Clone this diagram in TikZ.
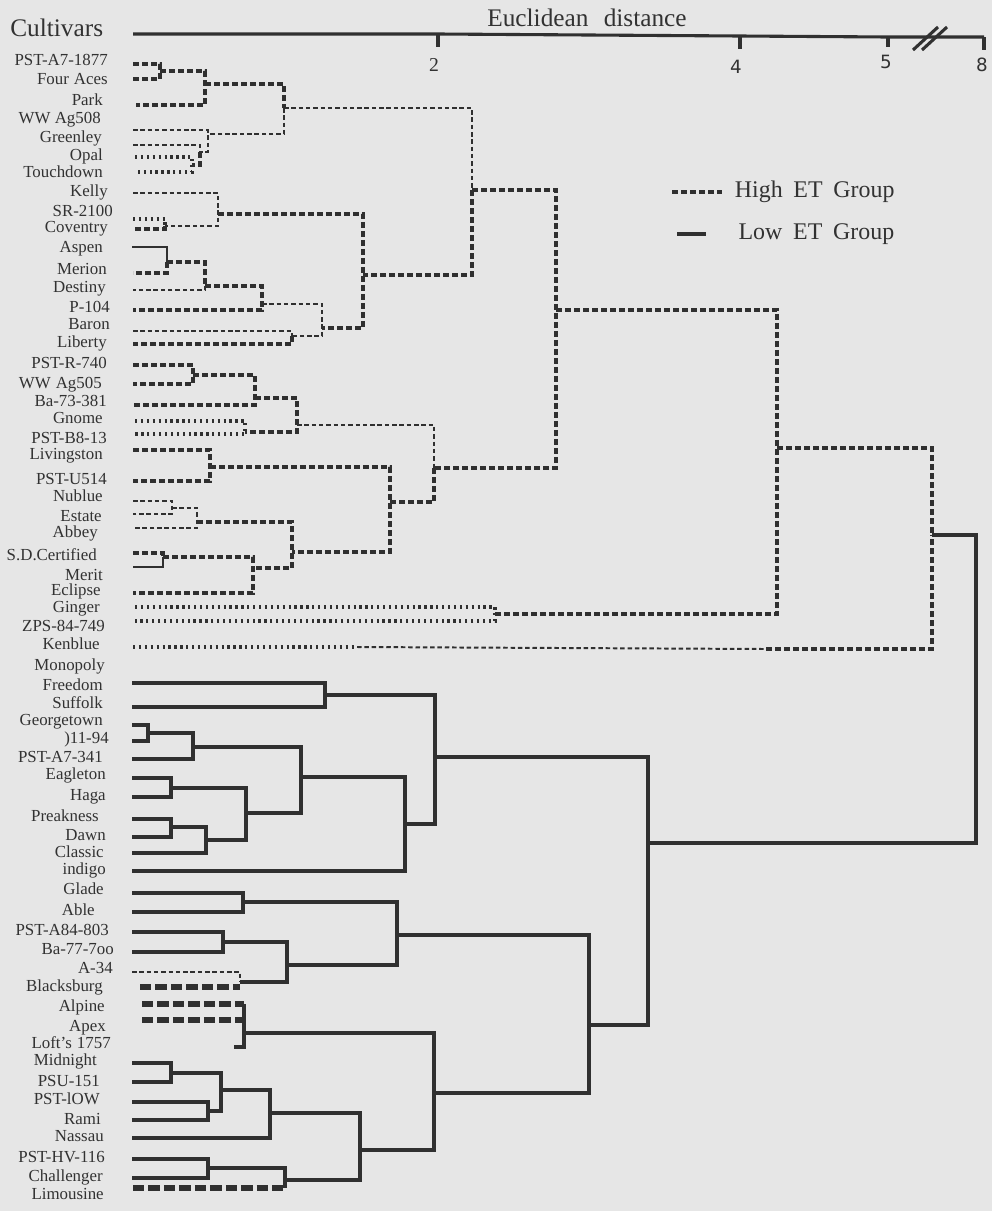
\documentclass[tikz,border=0pt]{standalone}
\usepackage{fontspec}
\usepackage{tikz}
\setmainfont{Liberation Serif}
\newfontfamily\digitfont{DejaVu Sans}
\usetikzlibrary{positioning}

\definecolor{paper}{RGB}{230,230,230}
\definecolor{ink}{RGB}{48,48,48}
\definecolor{txt}{RGB}{50,50,50}

\begin{document}
\begin{tikzpicture}[
    x=0.025cm, y=-0.025cm,
    cultivar/.style={anchor=mid east, inner sep=0pt, text=txt, font=\fontsize{12}{14}\selectfont},
    heading/.style={inner sep=0pt, text=txt, font=\fontsize{18}{20}\selectfont},
    legendtext/.style={anchor=mid west, inner sep=0pt, text=txt, font=\fontsize{17}{19}\selectfont},
    tick/.style={inner sep=0pt, text=txt, font=\fontsize{14}{16}\selectfont},
    axis/.style={draw=ink, line width=2.2pt},
    high/.style={draw=ink, line width=2.5pt, dash pattern=on 4.2pt off 2.2pt},
    highthin/.style={draw=ink, line width=1.4pt, dash pattern=on 3.2pt off 2pt},
    highdot/.style={draw=ink, line width=3pt, dash pattern=on 1.6pt off 2.6pt},
    thinline/.style={draw=ink, line width=1.4pt},
    low/.style={draw=ink, line width=2.3pt},
    smudge/.style={draw=ink, line width=3.6pt, dash pattern=on 8pt off 3pt}
]
\fill[paper] (0,0) rectangle (992,1211);

% headings and scale
\node[heading, anchor=mid west] (cultivars) at (10,33) {Cultivars};
\node[heading] (xlabel) at (587,18) {Euclidean\hspace{0.6em}distance};
\coordinate (ax0) at (133,34);
\coordinate (ax2) at (438,34);
\coordinate (ax4) at (740,36);
\coordinate (ax5) at (888,37);
\coordinate (ax8) at (984,37);
\draw[axis] (ax0) -- (ax2) -- (ax4) -- (ax5) -- (ax8);
\draw[axis] (ax2) -- ++(0,13);
\draw[axis] (ax4) -- ++(0,13);
\draw[axis] (ax5) -- ++(0,10);
\draw[axis] (ax8) -- ++(0,13);
\draw[axis] (913,50) -- (938,27);
\draw[axis] (922,50) -- (947,27);
\node[tick] (two) at (434,65) {2};
\node[tick, font=\digitfont\fontsize{13}{15}\selectfont] (four) at (736,67) {4};
\node[tick, font=\digitfont\fontsize{13}{15}\selectfont] (five) at (886,62) {5};
\node[tick, font=\digitfont\fontsize{13}{15}\selectfont] (eight) at (982,65) {8};

% legend
\coordinate (hiL) at (672,192);
\coordinate (hiR) at (722,192);
\coordinate (loL) at (677,234);
\coordinate (loR) at (706,234);
\draw[high, line width=2.8pt] (hiL) -- (hiR);
\draw[low] (loL) -- (loR);
\node[legendtext, right=9pt of hiR] (hightext) {High\hspace{0.45em}ET\hspace{0.45em}Group};
\node[legendtext, right=23pt of loR] (lowtext) {Low\hspace{0.45em}ET\hspace{0.45em}Group};

% cultivar names
\node[cultivar] (pstA7) at (108,62) {PST-A7-1877};
\node[cultivar] (fouraces) at (108,81) {Four\hspace{0.3em}Aces};
\node[cultivar] (park) at (103,102) {Park};
\node[cultivar] (wwag508) at (101,120) {WW Ag508};
\node[cultivar] (greenley) at (102,139) {Greenley};
\node[cultivar] (opal) at (103,157) {Opal};
\node[cultivar] (touchdown) at (103,174) {Touchdown};
\node[cultivar] (kelly) at (108,193) {Kelly};
\node[cultivar] (sr2100) at (113,213) {SR-2100};
\node[cultivar] (coventry) at (108,229) {Coventry};
\node[cultivar] (aspen) at (103,249) {Aspen};
\node[cultivar] (merion) at (107,271) {Merion};
\node[cultivar] (destiny) at (106,289) {Destiny};
\node[cultivar] (p104) at (110,309) {P-104};
\node[cultivar] (baron) at (110,326) {Baron};
\node[cultivar] (liberty) at (107,344) {Liberty};
\node[cultivar] (pstR740) at (107,365) {PST-R-740};
\node[cultivar] (wwag505) at (102,385) {WW\hspace{0.3em}Ag505};
\node[cultivar] (ba73) at (107,403) {Ba-73-381};
\node[cultivar] (gnome) at (103,420) {Gnome};
\node[cultivar] (pstB8) at (107,440) {PST-B8-13};
\node[cultivar] (livingston) at (103,456) {Livingston};
\node[cultivar] (pstU514) at (107,481) {PST-U514};
\node[cultivar] (nublue) at (103,498) {Nublue};
\node[cultivar] (estate) at (102,518) {Estate};
\node[cultivar] (abbey) at (98,534) {Abbey};
\node[cultivar] (sdcert) at (97,557) {S.D.Certified};
\node[cultivar] (merit) at (103,577) {Merit};
\node[cultivar] (eclipse) at (101,592) {Eclipse};
\node[cultivar] (ginger) at (100,609) {Ginger};
\node[cultivar] (zps) at (105,628) {ZPS-84-749};
\node[cultivar] (kenblue) at (100,646) {Kenblue};
\node[cultivar] (monopoly) at (105,667) {Monopoly};
\node[cultivar] (freedom) at (103,687) {Freedom};
\node[cultivar] (suffolk) at (103,705) {Suffolk};
\node[cultivar] (georgetown) at (103,722) {Georgetown};
\node[cultivar] (j1194) at (109,740) {)11-94};
\node[cultivar] (pstA7341) at (103,759) {PST-A7-341};
\node[cultivar] (eagleton) at (106,776) {Eagleton};
\node[cultivar] (haga) at (106,797) {Haga};
\node[cultivar] (preakness) at (99,818) {Preakness};
\node[cultivar] (dawn) at (106,837) {Dawn};
\node[cultivar] (classic) at (104,854) {Classic};
\node[cultivar] (indigo) at (106,871) {indigo};
\node[cultivar] (glade) at (104,891) {Glade};
\node[cultivar] (able) at (95,912) {Able};
\node[cultivar] (pstA84) at (109,932) {PST-A84-803};
\node[cultivar] (ba77) at (114,951) {Ba-77-7oo};
\node[cultivar] (a34) at (113,970) {A-34};
\node[cultivar] (blacksburg) at (103,988) {Blacksburg};
\node[cultivar] (alpine) at (105,1008) {Alpine};
\node[cultivar] (apex) at (106,1028) {Apex};
\node[cultivar] (lofts) at (111,1045) {Loft's\hspace{0.3em}1757};
\node[cultivar] (midnight) at (97,1062) {Midnight};
\node[cultivar] (psu151) at (100,1083) {PSU-151};
\node[cultivar] (pst10w) at (100,1101) {PST-lOW};
\node[cultivar] (rami) at (101,1121) {Rami};
\node[cultivar] (nassau) at (104,1138) {Nassau};
\node[cultivar] (psthv) at (105,1159) {PST-HV-116};
\node[cultivar] (challenger) at (103,1178) {Challenger};
\node[cultivar] (limousine) at (104,1196) {Limousine};

% leaf ends, high ET group
\coordinate (pstA70) at (133,64);
\coordinate (fouraces0) at (133,79);
\coordinate (park0) at (136,105);
\coordinate (wwag5080) at (133,130);
\coordinate (greenley0) at (133,145);
\coordinate (opal0) at (135,157);
\coordinate (touchdown0) at (135,172);
\coordinate (kelly0) at (133,193);
\coordinate (sr21000) at (133,219);
\coordinate (coventry0) at (133,229);
\coordinate (aspen0) at (132,247);
\coordinate (merion0) at (133,273);
\coordinate (destiny0) at (133,290);
\coordinate (p1040) at (133,310);
\coordinate (baron0) at (133,331);
\coordinate (liberty0) at (133,344);
\coordinate (pstR7400) at (133,365);
\coordinate (wwag5050) at (133,384);
\coordinate (ba730) at (133,405);
\coordinate (gnome0) at (135,421);
\coordinate (pstB80) at (135,434);
\coordinate (livingston0) at (133,450);
\coordinate (pstU5140) at (133,481);
\coordinate (nublue0) at (133,501);
\coordinate (estate0) at (133,514);
\coordinate (abbey0) at (133,528);
\coordinate (sdcert0) at (133,553);
\coordinate (merit0) at (133,567);
\coordinate (eclipse0) at (133,593);
\coordinate (ginger0) at (135,607);
\coordinate (zps0) at (135,621);
\coordinate (kenblue0) at (133,647);
\coordinate (kb1) at (357,647);
\coordinate (kb2) at (766,649);

% junctions, high ET group
\coordinate (j1) at (160,71);
\coordinate (j2) at (205,84);
\coordinate (j3) at (192,165);
\coordinate (j4) at (200,152);
\coordinate (j5) at (208,134);
\coordinate (j6) at (284,108);
\coordinate (j7) at (165,226);
\coordinate (j8) at (218,214);
\coordinate (j9) at (167,262);
\coordinate (j10) at (205,286);
\coordinate (j11) at (262,304);
\coordinate (j12) at (292,336);
\coordinate (j13) at (322,328);
\coordinate (j14) at (363,275);
\coordinate (j15) at (472,190);
\coordinate (j16) at (193,375);
\coordinate (j17) at (255,398);
\coordinate (j18) at (245,432);
\coordinate (j19) at (297,425);
\coordinate (j20) at (210,467);
\coordinate (j21) at (172,508);
\coordinate (j22) at (197,522);
\coordinate (j23) at (163,557);
\coordinate (j24) at (253,568);
\coordinate (j25) at (292,552);
\coordinate (j26) at (390,502);
\coordinate (j27) at (434,468);
\coordinate (j28) at (556,310);
\coordinate (j29) at (495,614);
\coordinate (j30) at (777,448);
\coordinate (j31) at (932,535);
\coordinate (root) at (976,700);

\draw[high] (pstA70) -| (j1) |- (fouraces0);
\draw[high] (j1) -| (j2) |- (park0);
\draw[highdot] (opal0) -| (j3) |- (touchdown0);
\draw[highthin] (greenley0) -| (j4);
\draw[high] (j4) |- (j3);
\draw[highthin] (wwag5080) -| (j5) |- (j4);
\draw[high] (j2) -| (j6);
\draw[highthin] (j6) |- (j5);
\draw[highthin] (j6) -| (j15);
\draw[high] (j15) |- (j14);
\draw[highdot] (sr21000) -| (j7);
\draw[high] (j7) |- (coventry0);
\draw[highthin] (kelly0) -| (j8) |- (j7);
\draw[high] (j8) -| (j14) |- (j13);
\draw[thinline] (aspen0) -| (j9);
\draw[high] (j9) |- (merion0);
\draw[high] (j9) -| (j10);
\draw[highthin] (j10) |- (destiny0);
\draw[high] (j10) -| (j11) |- (p1040);
\draw[highthin] (baron0) -| (j12);
\draw[high] (j12) |- (liberty0);
\draw[highthin] (j11) -| (j13) |- (j12);
\draw[high] (pstR7400) -| (j16) |- (wwag5050);
\draw[high] (j16) -| (j17) |- (ba730);
\draw[highdot] (gnome0) -| (j18) |- (pstB80);
\draw[high] (j17) -| (j19) |- (j18);
\draw[high] (livingston0) -| (j20) |- (pstU5140);
\draw[highthin] (nublue0) -| (j21) |- (estate0);
\draw[highthin] (j21) -| (j22) |- (abbey0);
\draw[high] (sdcert0) -| (j23);
\draw[thinline] (j23) |- (merit0);
\draw[high] (j23) -| (j24) |- (eclipse0);
\draw[high] (j22) -| (j25) |- (j24);
\draw[high] (j20) -| (j26) |- (j25);
\draw[highthin] (j19) -| (j27);
\draw[high] (j27) |- (j26);
\draw[high] (j15) -| (j28) |- (j27);
\draw[highdot] (ginger0) -| (j29) |- (zps0);
\draw[high] (j28) -| (j30) |- (j29);
\draw[highdot] (kenblue0) -- (kb1);
\draw[highthin] (kb1) -- (kb2);
\draw[high] (kb2) -| (j31);
\draw[high] (j30) -| (j31);

% leaf ends, low ET group
\coordinate (freedom0) at (132,683);
\coordinate (suffolk0) at (132,707);
\coordinate (georgetown0) at (132,725);
\coordinate (j11940) at (132,741);
\coordinate (pstA73410) at (132,759);
\coordinate (eagleton0) at (132,778);
\coordinate (haga0) at (132,797);
\coordinate (preakness0) at (132,819);
\coordinate (dawn0) at (132,837);
\coordinate (classic0) at (132,853);
\coordinate (indigo0) at (132,871);
\coordinate (glade0) at (132,893);
\coordinate (able0) at (132,912);
\coordinate (pstA840) at (132,932);
\coordinate (ba770) at (132,952);
\coordinate (a340) at (132,972);
\coordinate (blacksburg0) at (140,987);
\coordinate (alpine0) at (142,1004);
\coordinate (apex0) at (142,1020);
\coordinate (lofts0) at (234,1047);
\coordinate (midnight0) at (132,1063);
\coordinate (psu1510) at (132,1082);
\coordinate (pst10w0) at (132,1102);
\coordinate (rami0) at (132,1120);
\coordinate (nassau0) at (132,1138);
\coordinate (psthv0) at (132,1159);
\coordinate (challenger0) at (132,1178);
\coordinate (limousine0) at (133,1188);

% junctions, low ET group
\coordinate (m1) at (325,695);
\coordinate (m2) at (148,733);
\coordinate (m3) at (193,747);
\coordinate (m4) at (171,788);
\coordinate (m5) at (171,827);
\coordinate (m6) at (206,840);
\coordinate (m7) at (246,813);
\coordinate (m8) at (301,777);
\coordinate (m9) at (405,824);
\coordinate (m10) at (435,757);
\coordinate (m11) at (648,843);
\coordinate (k1) at (240,982);
\coordinate (k2) at (244,1033);
\coordinate (k3) at (223,942);
\coordinate (k4) at (287,965);
\coordinate (k5) at (243,902);
\coordinate (k6) at (397,935);
\coordinate (k7) at (171,1073);
\coordinate (k8) at (208,1111);
\coordinate (k9) at (221,1090);
\coordinate (k10) at (270,1113);
\coordinate (k11) at (208,1168);
\coordinate (k12) at (285,1180);
\coordinate (k13) at (360,1150);
\coordinate (k14) at (434,1093);
\coordinate (k15) at (589,1025);

\draw[low] (freedom0) -| (m1) |- (suffolk0);
\draw[low] (georgetown0) -| (m2) |- (j11940);
\draw[low] (m2) -| (m3) |- (pstA73410);
\draw[low] (eagleton0) -| (m4) |- (haga0);
\draw[low] (preakness0) -| (m5) |- (dawn0);
\draw[low] (m5) -| (m6) |- (classic0);
\draw[low] (m4) -| (m7) |- (m6);
\draw[low] (m3) -| (m8) |- (m7);
\draw[low] (m8) -| (m9) |- (indigo0);
\draw[low] (m1) -| (m10) |- (m9);
\draw[low] (glade0) -| (k5) |- (able0);
\draw[low] (pstA840) -| (k3) |- (ba770);
\draw[highthin] (a340) -| (k1);
\draw[smudge] (blacksburg0) -- (blacksburg0 -| k1);
\draw[low] (k3) -| (k4) |- (k1);
\draw[low] (k5) -| (k6) |- (k4);
\draw[smudge] (alpine0) -- (alpine0 -| k2);
\draw[smudge] (apex0) -- (apex0 -| k2);
\draw[low] (alpine0 -| k2) -- (k2) |- (lofts0);
\draw[low] (midnight0) -| (k7) |- (psu1510);
\draw[low] (pst10w0) -| (k8) |- (rami0);
\draw[low] (k7) -| (k9) |- (k8);
\draw[low] (k9) -| (k10) |- (nassau0);
\draw[low] (psthv0) -| (k11) |- (challenger0);
\draw[smudge] (limousine0) -- (limousine0 -| k12);
\draw[low] (k11) -| (k12) |- (limousine0 -| k12);
\draw[low] (k10) -| (k13) |- (k12);
\draw[low] (k2) -| (k14) |- (k13);
\draw[low] (k6) -| (k15) |- (k14);
\draw[low] (m10) -| (m11) |- (k15);
\draw[low] (j31) -| (root) |- (m11);
\end{tikzpicture}
\end{document}
